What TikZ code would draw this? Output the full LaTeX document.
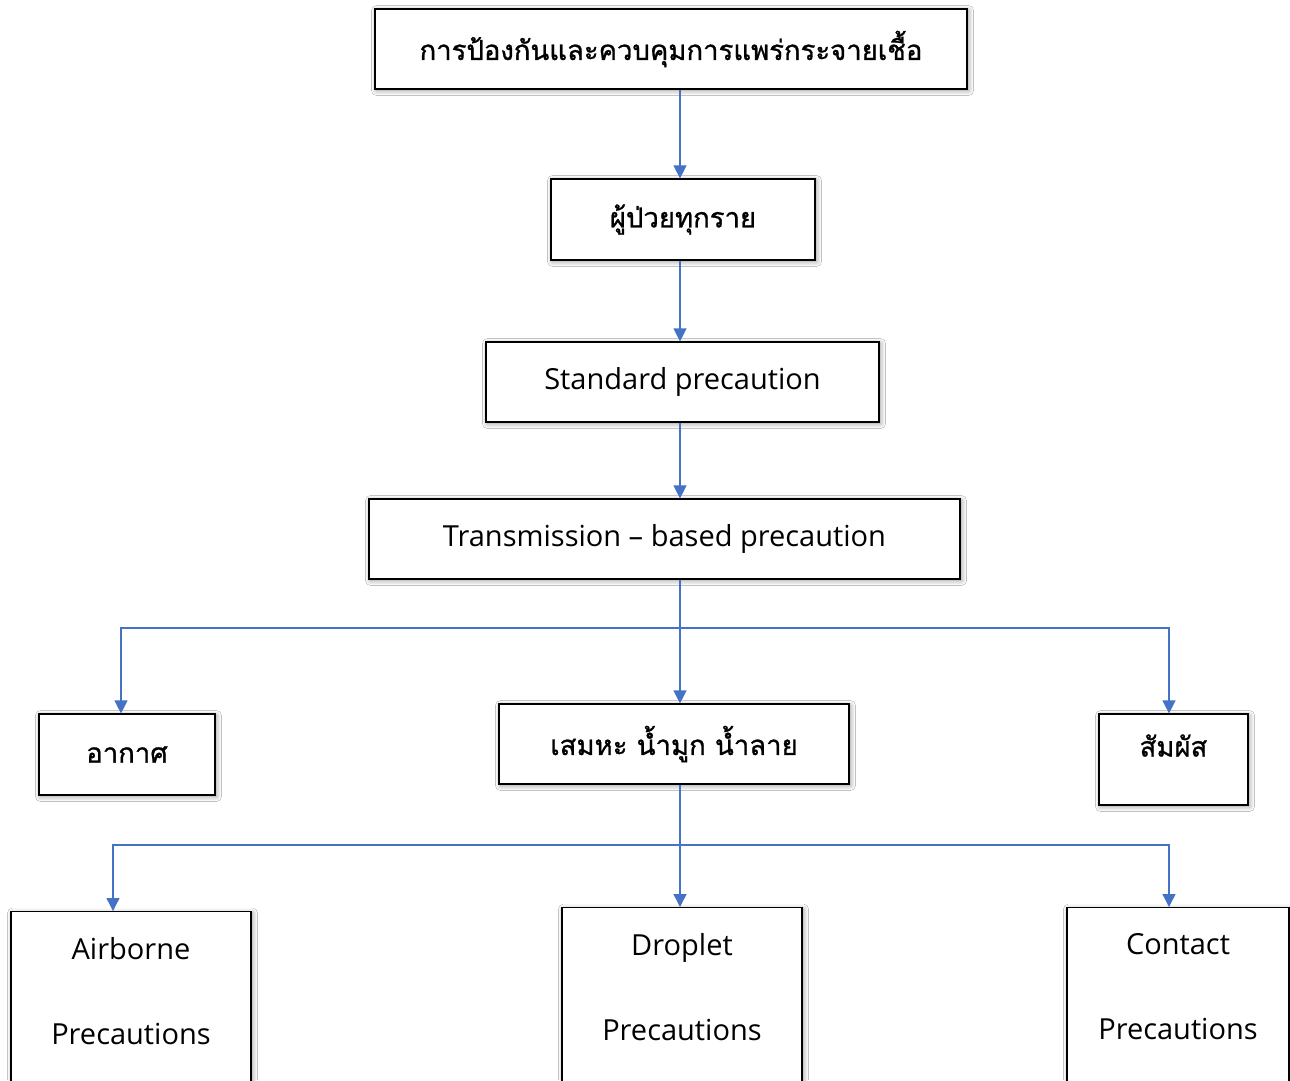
\documentclass[tikz,border=0pt]{standalone}
\usepackage{fontspec}
\setmainfont{Open Sans}
\newfontfamily\thaifont[Script=Thai,FakeBold=1]{Loma}
\usepackage{xcolor}
\usetikzlibrary{arrows.meta,shadows.blur}
\definecolor{lnblue}{HTML}{4472C4}

\begin{document}
\begin{tikzpicture}[x=1pt,y=-1pt,
  box/.style={draw=black,line width=1.2pt,fill=white,inner sep=0pt,
              align=center,font=\fontsize{29}{34}\selectfont,
              blur shadow={shadow xshift=1.5pt,shadow yshift=-1.5pt,
                           shadow blur radius=5pt,shadow opacity=45}},
  thbox/.style={box,font=\fontsize{27.5}{33}\selectfont\thaifont},
  tall/.style={box,anchor=north,inner ysep=26pt,text depth=60pt},
  lnk/.style={lnblue,line width=1.3pt},
  arr/.style={lnk,-{Triangle[length=13pt,width=13pt]}}]

\useasboundingbox (0,0) rectangle (1290,1080);
\clip (0,0) rectangle (1290,1080);
\fill[white] (0,0) rectangle (1290,1080);

\coordinate (spine) at (680,0);

\node[thbox,minimum width=592,minimum height=80] (top) at (671,49)
  {การป้องกันและควบคุมการแพร่กระจายเชื้อ};
\node[thbox,minimum width=264,minimum height=81] (allpt) at (683,219.5)
  {ผู้ป่วยทุกราย};
\node[box,minimum width=393,minimum height=80] (stdp) at (682.5,382)
  {Standard precaution};
\node[box,minimum width=591,minimum height=80] (tbp) at (664.5,539)
  {Transmission -- based precaution};

\node[thbox,minimum width=176,minimum height=81] (air) at (127,754.5) {อากาศ};
\node[thbox,minimum width=350,minimum height=80] (secr) at (674,744)
  {เสมหะ น้ำมูก น้ำลาย};
\node[thbox,minimum width=149,minimum height=91,text depth=28pt] (touch)
  at (1173.5,759.5) {สัมผัส};

\node[tall,minimum width=240] (airp) at (131,911) {Airborne\\[51pt]Precautions};
\node[tall,minimum width=240] (dropp) at (682,907) {Droplet\\[51pt]Precautions};
\node[tall,minimum width=222] (contp) at (1178,907) {Contact\\[51pt]Precautions};

\coordinate (fork1) at (680,628);
\coordinate (fork2) at (680,845);

% main line
\draw[arr] (top.south -| spine) -- (allpt.north -| spine);
\draw[arr] (allpt.south -| spine) -- (stdp.north -| spine);
\draw[arr] (stdp.south -| spine) -- (tbp.north -| spine);
\draw[arr] (tbp.south -| spine) -- (secr.north -| spine);

% routes
\draw[arr] (fork1) -| ([xshift=-6]air.north);
\draw[arr] (fork1) -| ([xshift=-4.5]touch.north);
\draw[arr] (secr.south -| spine) -- (dropp.north -| spine);
\draw[arr] (fork2) -| ([xshift=-18]airp.north);
\draw[arr] (fork2) -| ([xshift=-9]contp.north);
\end{tikzpicture}
\end{document}
